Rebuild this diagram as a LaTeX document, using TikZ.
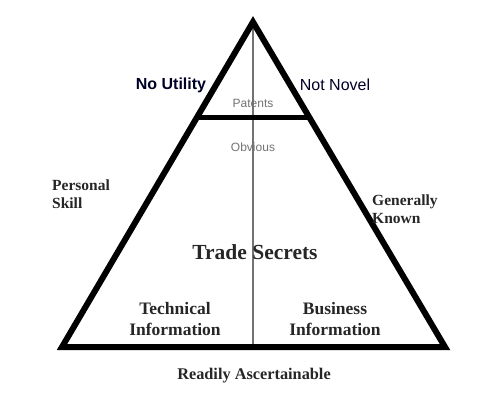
\documentclass[tikz,border=0pt]{standalone}
\usepackage{fontspec}
\setmainfont{Liberation Serif}
\newfontfamily\sansf{Liberation Sans}
\begin{document}
\begin{tikzpicture}[x=1pt,y=-1pt,
  serifbold/.style={font=\fontsize{15.5}{18.5}\selectfont\bfseries, text=black!85, align=center, inner sep=0pt},
  serifleft/.style={font=\fontsize{15.5}{18.5}\selectfont\bfseries, text=black!85, align=left, inner sep=0pt, anchor=west},
  sanslabel/.style={font=\sansf\fontsize{16}{18}\selectfont, text=black!85!blue, inner sep=0pt},
  smallgray/.style={font=\sansf\fontsize{12}{14}\selectfont, text=black!55, inner sep=0pt},
  thickside/.style={line width=6pt, line join=miter, black},
  divider/.style={line width=1.1pt, black!55}
]
\useasboundingbox (0,0) rectangle (477,402);
\coordinate (apex) at (253,22);
\coordinate (bl) at (62,347);
\coordinate (br) at (445,347);
\coordinate (bm) at (253,347);
\coordinate (hl) at (197,117);
\coordinate (hr) at (309,117);
\draw[divider] (apex) -- (bm);
\draw[thickside] (apex) -- (br) -- (bl) -- cycle;
\draw[line width=5pt, black] (hl) -- (hr);
\node[sanslabel, font=\sansf\fontsize{16}{18}\selectfont\bfseries] (noutil) at (171,85) {No Utility};
\node[sanslabel] (notnovel) at (335,85) {Not Novel};
\node[smallgray] (patents) at (253,103) {Patents};
\node[smallgray] (obvious) at (253,147) {Obvious};
\node[serifleft] (personal) at (52,194) {Personal\\Skill};
\node[serifleft] (general) at (372,209) {Generally\\Known};
\node[serifbold, font=\fontsize{21.5}{24}\selectfont\bfseries] (trade) at (255,252) {Trade Secrets};
\node[serifbold, font=\fontsize{17.5}{21}\selectfont\bfseries] (tech) at (175,319) {Technical\\Information};
\node[serifbold, font=\fontsize{17.5}{21}\selectfont\bfseries] (biz) at (335,319) {Business\\Information};
\node[serifbold, font=\fontsize{16.3}{19}\selectfont\bfseries] (ready) at (254,376) {Readily Ascertainable};
\end{tikzpicture}
\end{document}
